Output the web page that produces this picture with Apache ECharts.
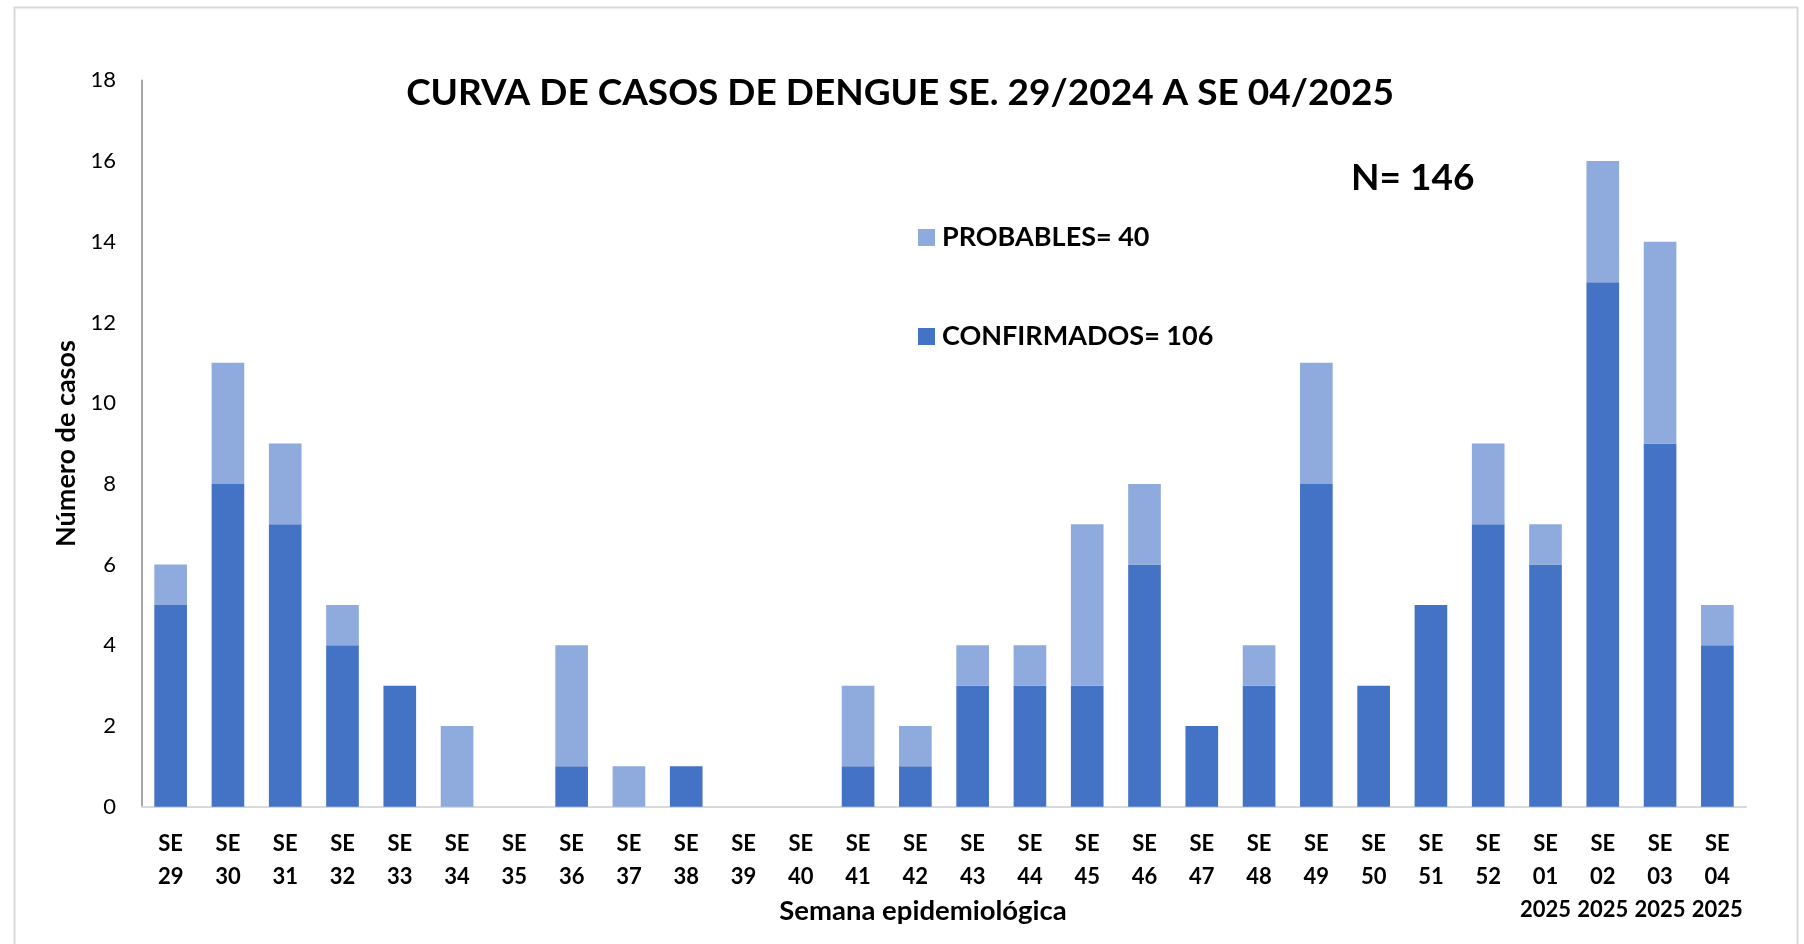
<!DOCTYPE html>
<html>
<head>
<meta charset="utf-8">
<script src="https://cdn.jsdelivr.net/npm/echarts@6/dist/echarts.min.js"></script>
<style>
html,body{margin:0;padding:0;background:#fff;}
#c{width:1804px;height:944px;}
</style>
</head>
<body>
<div id="c"></div>
<script>
const categories = ['SE\n29','SE\n30','SE\n31','SE\n32','SE\n33','SE\n34','SE\n35','SE\n36','SE\n37','SE\n38','SE\n39','SE\n40','SE\n41','SE\n42','SE\n43','SE\n44','SE\n45','SE\n46','SE\n47','SE\n48','SE\n49','SE\n50','SE\n51','SE\n52','SE\n01\n2025','SE\n02\n2025','SE\n03\n2025','SE\n04\n2025'];
const confirmados = [5,8,7,4,3,0,0,1,0,1,0,0,1,1,3,3,3,6,2,3,8,3,5,7,6,13,9,4];
const probables   = [1,3,2,1,0,2,0,3,1,0,0,0,2,1,1,1,4,2,0,1,3,0,0,2,1,3,5,1];
const yTicks = [0,2,4,6,8,10,12,14,16,18];
const titleText = 'CURVA DE CASOS DE DENGUE SE. 29/2024 A SE 04/2025';
const nameConf = 'CONFIRMADOS= 106';
const nameProb = 'PROBABLES= 40';
const totalText = 'N= 146';
const xName = 'Semana epidemiológica';
const yName = 'Número de casos';

const FONT = 'Lato, "Open Sans", sans-serif';
const chart = echarts.init(document.getElementById('c'));
chart.setOption({
  backgroundColor: '#fff',
  animation: false,
  textStyle: {fontFamily: FONT},
  title: {
    text: titleText,
    left: 895, top: 70, textAlign: 'center',
    textStyle: {fontFamily: FONT, fontWeight: 'bold', fontSize: 37, color: '#000'}
  },
  legend: {
    orient: 'vertical',
    left: 913, top: 219,
    itemWidth: 17, itemHeight: 17,
    itemGap: 72,
    icon: 'rect',
    data: [nameProb, nameConf],
    textStyle: {fontFamily: FONT, fontWeight: 'bold', fontSize: 27, color: '#000', padding: [0,0,0,2]}
  },
  grid: {left: 142, right: 58, top: 80.4, bottom: 137.3, containLabel: false},
  xAxis: {
    type: 'category',
    data: categories,
    axisLine: {lineStyle: {color: '#D9D9D9', width: 2}},
    axisTick: {show: false},
    axisLabel: {fontFamily: FONT, fontWeight: 'bold', fontSize: 22, color: '#000', lineHeight: 33, margin: 21, interval: 0}
  },
  yAxis: {
    type: 'value', min: 0, max: 18, interval: 2,
    name: yName, nameLocation: 'middle', nameGap: 62, nameRotate: 90,
    nameTextStyle: {fontFamily: FONT, fontWeight: 'bold', fontSize: 27, color: '#000'},
    axisLine: {show: true, lineStyle: {color: '#A6A6A6', width: 2}},
    axisTick: {show: false},
    splitLine: {show: false},
    axisLabel: {fontFamily: FONT, fontSize: 22, color: '#000', margin: 26,
      formatter: v => yTicks.includes(v) ? String(v) : ''}
  },
  series: [
    {name: nameConf, type: 'bar', stack: 'a', data: confirmados, barWidth: '57%',
     itemStyle: {color: '#4472C4'}},
    {name: nameProb, type: 'bar', stack: 'a', data: probables, barWidth: '57%',
     itemStyle: {color: '#8FAADC'}}
  ],
  graphic: [
    {type: 'rect', shape: {x: 14.5, y: 7.5, width: 1783, height: 960}, style: {fill: 'none', stroke: '#D9D9D9', lineWidth: 2}, silent: true},
    {type: 'text', left: 1351, top: 160, style: {text: totalText, fontFamily: FONT, fontWeight: 'bold', fontSize: 37, fill: '#000'}},
    {type: 'text', x: 923, y: 911, style: {text: xName, fontFamily: FONT, fontWeight: 'bold', fontSize: 27.5, fill: '#000', align: 'center', verticalAlign: 'middle'}}
  ]
});
</script>
</body>
</html>
